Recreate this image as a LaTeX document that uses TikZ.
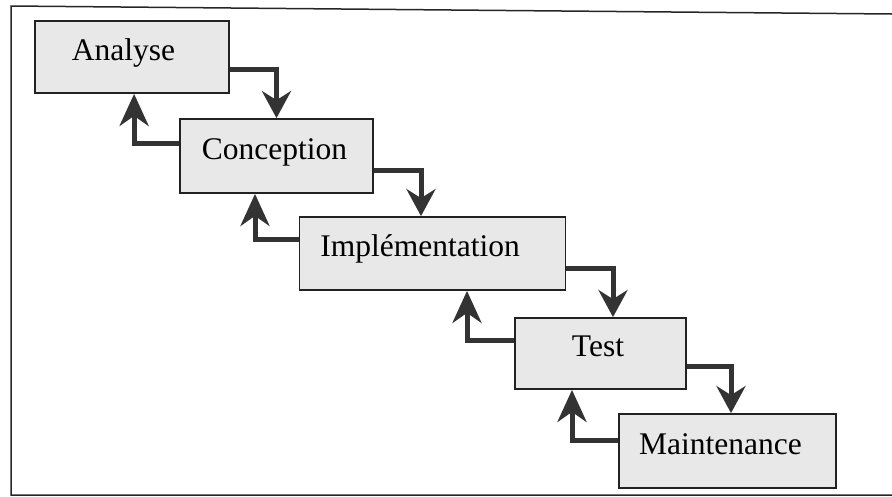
\documentclass[tikz,border=0pt]{standalone}
\usepackage{fontspec}
\setmainfont{Liberation Serif}
\usetikzlibrary{arrows.meta}
\definecolor{boxfill}{HTML}{E8E8E8}
\definecolor{boxline}{HTML}{222222}
\definecolor{arrowcol}{HTML}{333333}
\tikzset{
  phase/.style={draw=boxline, line width=1.8pt, fill=boxfill, rectangle,
    inner sep=0pt, font=\fontsize{31.5}{36}\selectfont,
    text height=21pt, text depth=15pt},
  conn/.style={draw=arrowcol, line width=5pt,
    -{Stealth[length=27pt, width=29pt, inset=9pt]}},
  back/.style={conn, -{Stealth[length=32pt, width=29pt, inset=10pt]}},
  frameline/.style={draw=black!85, line width=1.5pt}
}
\begin{document}
\begin{tikzpicture}[x=1pt, y=-1pt]
\useasboundingbox (0,0) rectangle (892,496);
% outer frame
\draw[frameline] (892,14) -- (11,6) -- (11,495) -- (892,495);
% phases of the cascade
\node[phase, minimum width=194pt, minimum height=72pt] (A) at (132,57) {Analyse\kern17pt};
\node[phase, minimum width=193pt, minimum height=74pt] (C) at (276.5,156) {Conception\kern4pt};
\node[phase, minimum width=266pt, minimum height=73pt] (I) at (432.5,253.5) {Implémentation\kern25pt};
\node[phase, minimum width=171pt, minimum height=71pt] (T) at (600.5,353.5) {Test\kern5pt};
\node[phase, minimum width=217pt, minimum height=74pt] (M) at (727.5,451) {Maintenance\kern14pt};
% forward steps
\draw[conn] ([yshift=-12pt]A.east) -| (C.north);
\draw[conn] ([yshift=-14pt]C.east) -| ([xshift=-11.5pt]I.north);
\draw[conn] ([yshift=-14.5pt]I.east) -| ([xshift=12.5pt]T.north);
\draw[conn] ([yshift=-12.5pt]T.east) -| ([xshift=3.5pt]M.north);
% feedback steps
\draw[back] ([yshift=13pt]C.west) -| ([xshift=100pt]A.south west);
\draw[back] ([yshift=14.5pt]I.west) -| ([xshift=-21.5pt]C.south);
\draw[back] ([yshift=13.5pt]T.west) -| ([xshift=34.5pt]I.south);
\draw[back] ([yshift=11pt]M.west) -| ([xshift=-28.5pt]T.south);
\end{tikzpicture}
\end{document}
